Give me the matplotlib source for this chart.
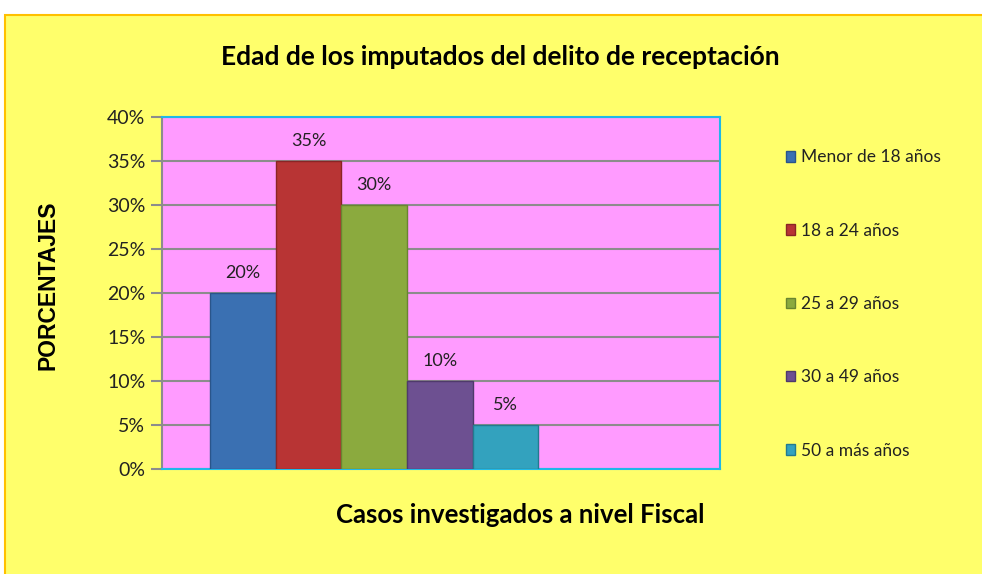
import matplotlib.pyplot as plt
from matplotlib.patches import Rectangle
from matplotlib.ticker import PercentFormatter

categorias = ["Menor de 18 años", "18 a 24 años", "25 a 29 años", "30 a 49 años", "50 a más años"]
valores = [20, 35, 30, 10, 5]
colores = ["#3A70B2", "#B83434", "#8BAA3E", "#6D5091", "#33A2BE"]
bordes = ["#2A558A", "#8A2525", "#6A8530", "#4F3A6B", "#237A90"]

fig = plt.figure(figsize=(9.82, 5.74), dpi=100)
fig.patch.set_facecolor("white")

# fondo amarillo del grafico
fondo = Rectangle((5 / 982, -0.01), 1.0, 1 - 15 / 574 + 0.01, transform=fig.transFigure,
                  facecolor="#FFFF6B", edgecolor="#FFC000", linewidth=1.5, zorder=-5)
fig.patches.append(fondo)

ax = fig.add_axes([162 / 982, 1 - 469 / 574, (720 - 162) / 982, (469 - 117) / 574])
ax.set_facecolor("#FF9BFF")

x = list(range(len(valores)))
barras = ax.bar(x, valores, width=1.0, color=colores, edgecolor=bordes, linewidth=1,
                label=categorias, zorder=3)

for xi, v in zip(x, valores):
    ax.text(xi, v + 1.4, f"{v}%", ha="center", va="bottom", fontsize=13,
            family="Lato", color="#222222", zorder=4)

ax.set_ylim(0, 40)
ax.set_xlim(-1.23, 7.27)
ax.set_yticks(range(0, 41, 5))
ax.yaxis.set_major_formatter(PercentFormatter(decimals=0))
ax.set_xticks([])
ax.grid(axis="y", color="#8C8C8C", linewidth=1.5, zorder=1)
ax.tick_params(axis="y", length=8, color="#8C8C8C", width=1.5, labelsize=14, pad=4)
for lab in ax.get_yticklabels():
    lab.set_family("Lato")
    lab.set_color("#222222")

ax.spines["left"].set_color("#8C8C8C")
ax.spines["left"].set_linewidth(1.5)
ax.spines["right"].set_color("#1FB8E8")
ax.spines["top"].set_color("#1FB8E8")
ax.spines["bottom"].set_color("#1FB8E8")
for s in ["top", "bottom", "right"]:
    ax.spines[s].set_linewidth(1.5)

fig.text(500 / 982, 1 - 57 / 574, "Edad de los imputados del delito de receptación",
         ha="center", va="center", fontsize=19, fontweight="bold", family="Lato")
fig.text(520 / 982, 1 - 515 / 574, "Casos investigados a nivel Fiscal",
         ha="center", va="center", fontsize=18.5, fontweight="bold", family="Lato")
fig.text(48 / 982, 1 - 285 / 574, "PORCENTAJES", rotation=90, ha="center", va="center",
         fontsize=16.5, fontweight="bold", family="Liberation Sans")

leg = fig.legend(handles=barras, labels=categorias, loc="center left",
                 bbox_to_anchor=(770 / 982, 1 - 304 / 574), frameon=False,
                 handlelength=0.55, handleheight=0.55, handletextpad=0.35,
                 labelspacing=3.3, prop={"family": "Lato", "size": 12.5})
for t in leg.get_texts():
    t.set_color("#222222")

fig.savefig("out.png", dpi=100, facecolor=fig.get_facecolor())
